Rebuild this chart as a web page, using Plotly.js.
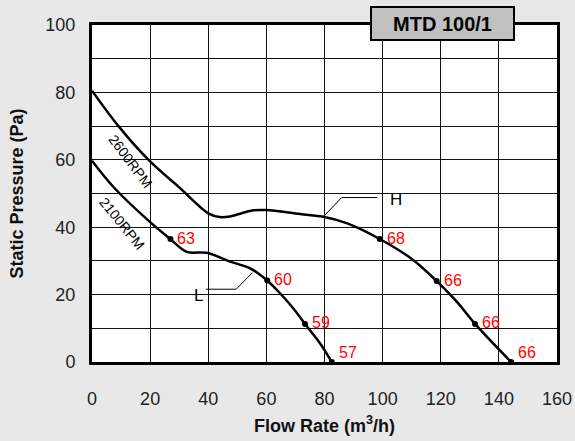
<!DOCTYPE html>
<html>
<head>
<meta charset="utf-8">
<script src="https://cdn.plot.ly/plotly-3.0.1.min.js"></script>
<style>
html,body{margin:0;padding:0;background:#e8e8e8;}
#chart{width:575px;height:441px;}
</style>
</head>
<body>
<div id="chart"></div>
<script>
// ---- data ----
const flowH  = [0, 9.1, 20, 30.3, 40, 44, 47.5, 55.5, 60, 71.6, 79.6, 87.6, 99, 110.5, 118.6, 125.5, 131.8, 144.2];
const pressH = [80.5, 70, 59.5, 51.6, 44.1, 43.0, 43.2, 45.0, 45.1, 43.9, 43.1, 41.2, 36.5, 30.3, 24, 17.9, 11.3, 0];
const flowL  = [0, 7.3, 20, 26.8, 32.6, 39.4, 47.5, 54.4, 57.8, 60.3, 64.7, 69.3, 73.3, 78.5, 82.5];
const pressL = [59.7, 52, 41.5, 36.6, 32.7, 32.4, 29.8, 27.8, 25.9, 24.2, 20.4, 15.9, 11.3, 5.5, 0];

const markFlowH  = [99, 118.6, 131.8, 144.2];
const markPressH = [36.5, 24, 11.3, 0];
const markNoiseH = ['68', '66', '66', '66'];
const markFlowL  = [27, 60.3, 73.3, 82.5];
const markPressL = [36.5, 24.2, 11.3, 0];
const markNoiseL = ['63', '60', '59', '57'];

const leaderHx = [79.6, 85.9, 98.2];
const leaderHy = [43.1, 48.8, 48.8];
const leaderLx = [55.2, 49.6, 39.2];
const leaderLy = [26.5, 21.6, 21.6];

const xTicks = [0, 20, 40, 60, 80, 100, 120, 140, 160];
const yTicks = [0, 20, 40, 60, 80, 100];
const chartTitle = 'MTD 100/1';
const speedLabels = ['2600RPM', '2100RPM'];
const curveNames = ['H', 'L'];

const FONT = 'Liberation Sans, Arial, Helvetica, sans-serif';

const traces = [
  {x: flowH, y: pressH, mode: 'lines', line: {color: '#000', width: 2.5, shape: 'spline', smoothing: 1}, hoverinfo: 'skip'},
  {x: flowL, y: pressL, mode: 'lines', line: {color: '#000', width: 2.5, shape: 'spline', smoothing: 1}, hoverinfo: 'skip'},
  {x: leaderHx, y: leaderHy, mode: 'lines', line: {color: '#000', width: 1}, hoverinfo: 'skip'},
  {x: leaderLx, y: leaderLy, mode: 'lines', line: {color: '#000', width: 1}, hoverinfo: 'skip'},
  {x: markFlowH.concat(markFlowL), y: markPressH.concat(markPressL), mode: 'markers',
   marker: {color: '#000', size: 6}, cliponaxis: false, hoverinfo: 'skip'}
];

const annotations = [];
function addMarks(xs, ys, ts) {
  xs.forEach((x, i) => {
    annotations.push({x: x, y: ys[i], text: ts[i], showarrow: false, xanchor: 'left', yanchor: 'middle',
      xshift: 5, yshift: ys[i] === 0 ? 10 : 1, font: {family: FONT, size: 16, color: '#ff0000'}});
  });
}
addMarks(markFlowH, markPressH, markNoiseH);
addMarks(markFlowL, markPressL, markNoiseL);

annotations.push({x: 104.6, y: 48.1, text: curveNames[0], showarrow: false, font: {family: FONT, size: 17, color: '#000'}});
annotations.push({x: 36.6, y: 19.6, text: curveNames[1], showarrow: false, font: {family: FONT, size: 17, color: '#000'}});
annotations.push({x: 13.1, y: 59.5, text: speedLabels[0], showarrow: false, textangle: 53, font: {family: FONT, size: 14, color: '#000'}});
annotations.push({x: 10.2, y: 41.2, text: speedLabels[1], showarrow: false, textangle: 51, font: {family: FONT, size: 14, color: '#000'}});

annotations.push({xref: 'paper', yref: 'paper', x: 0.7548, y: 1.0045, xanchor: 'center', yanchor: 'middle',
  text: '<b>' + chartTitle + '</b>', showarrow: false, bgcolor: '#c0c0c0', bordercolor: '#000', borderwidth: 2,
  borderpad: 0, width: 141, height: 31, font: {family: FONT, size: 20, color: '#000'}});

const layout = {
  width: 575, height: 441,
  margin: {l: 92, r: 18, t: 25, b: 79},
  paper_bgcolor: '#e8e8e8',
  plot_bgcolor: '#ffffff',
  showlegend: false,
  font: {family: FONT, color: '#222'},
  xaxis: {
    range: [0, 160], tickvals: xTicks, ticktext: xTicks.map(String),
    showgrid: true, gridcolor: '#111', gridwidth: 1, zeroline: false,
    showline: true, mirror: true, linecolor: '#000', linewidth: 3,
    ticks: '', ticklabelstandoff: 18, tickfont: {family: FONT, size: 18, color: '#222'},
    title: {text: '<b>Flow Rate (m<sup>3</sup>/h)</b>', font: {family: FONT, size: 18, color: '#111'}, standoff: 12},
    fixedrange: true
  },
  yaxis: {
    range: [0, 100], tickvals: yTicks, ticktext: yTicks.map(String),
    showgrid: true, gridcolor: '#111', gridwidth: 1, zeroline: false,
    minor: {dtick: 10, showgrid: true, gridcolor: '#111', gridwidth: 1},
    showline: true, mirror: true, linecolor: '#000', linewidth: 3,
    ticks: '', ticklabelstandoff: 10, tickfont: {family: FONT, size: 18, color: '#222'},
    title: {text: '<b>Static Pressure (Pa)</b>', font: {family: FONT, size: 18, color: '#111'}, standoff: 18},
    fixedrange: true
  },
  annotations: annotations
};

Plotly.newPlot('chart', traces, layout, {displayModeBar: false, staticPlot: true});
</script>
</body>
</html>
